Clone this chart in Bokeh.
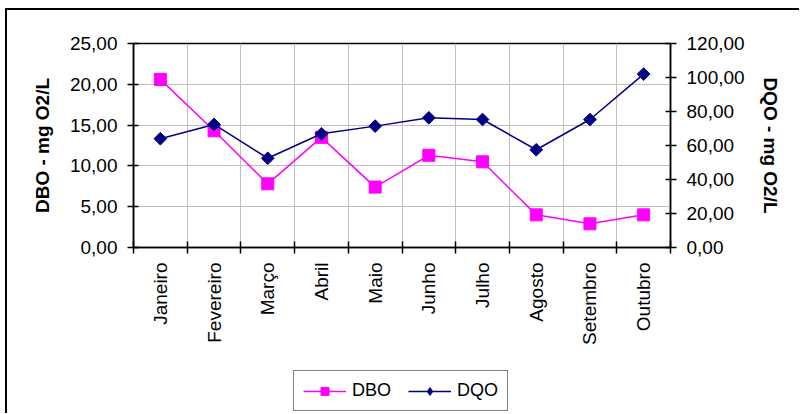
from bokeh.plotting import figure
from bokeh.layouts import column
from bokeh.models import Range1d, LinearAxis, FixedTicker, Legend, LegendItem
from bokeh.embed import file_html
from bokeh.resources import INLINE
import math

months = ["Janeiro", "Fevereiro", "Março", "Abril", "Maio", "Junho", "Julho",
          "Agosto", "Setembro", "Outubro"]
dbo = [20.6, 14.3, 7.8, 13.5, 7.4, 11.3, 10.5, 4.0, 2.9, 4.0]
dqo = [64.0, 72.4, 52.5, 66.9, 71.4, 76.3, 75.3, 57.5, 75.3, 102.0]
dbo_ticks = [0, 5, 10, 15, 20, 25]
dqo_ticks = [0, 20, 40, 60, 80, 100, 120]

FONT = "Liberation Sans"
PINK = "#FF00FF"
NAVY = "#000080"

n = len(months)
xc = [i + 0.5 for i in range(n)]
bounds = list(range(n + 1))

def fmt(v):
    return f"{v:.2f}".replace(".", ",")

p = figure(width=792, height=349, output_backend="svg", toolbar_location=None,
           x_range=Range1d(0, n), y_range=Range1d(0, 25),
           min_border_left=126, min_border_right=129, min_border_top=33,
           min_border_bottom=112, x_axis_location="below")
p.extra_y_ranges = {"dqo": Range1d(0, 120)}

p.outline_line_color = "black"
p.outline_line_width = 1.5
p.background_fill_color = "white"
p.border_fill_color = "white"

# x axis
xa = p.xaxis[0]
xa.ticker = FixedTicker(ticks=xc, minor_ticks=bounds)
xa.major_label_overrides = {c: m for c, m in zip(xc, months)}
xa.major_label_orientation = math.pi / 2
xa.major_tick_line_color = None
xa.major_tick_out = 6
xa.major_tick_in = 0
xa.minor_tick_line_color = "black"
xa.minor_tick_line_width = 1.5
xa.minor_tick_in = 6
xa.minor_tick_out = 6
xa.major_label_standoff = 9
xa.axis_line_color = "black"
xa.axis_line_width = 1.5
xa.major_label_text_font = FONT
xa.major_label_text_font_size = "19px"
xa.major_label_text_color = "black"

# left axis
ya = p.yaxis[0]
ya.ticker = FixedTicker(ticks=dbo_ticks)
ya.major_label_overrides = {t: fmt(t) for t in dbo_ticks}
ya.axis_label = "DBO - mg O2/L"

# right axis
ra = LinearAxis(y_range_name="dqo", ticker=FixedTicker(ticks=dqo_ticks))
ra.major_label_overrides = {t: fmt(t) for t in dqo_ticks}
ra.axis_label = "DQO - mg O2/L"
p.add_layout(ra, "right")

for ax in (ya, ra):
    ax.axis_line_color = "black"
    ax.axis_line_width = 1.5
    ax.major_tick_line_color = "black"
    ax.major_tick_line_width = 1.5
    ax.major_tick_in = 5
    ax.major_tick_out = 6
    ax.minor_tick_line_color = None
    ax.major_label_standoff = 10
    ax.major_label_text_font = FONT
    ax.major_label_text_font_size = "19px"
    ax.major_label_text_color = "black"
    ax.axis_label_text_font = FONT
    ax.axis_label_text_font_size = "19px"
    ax.axis_label_text_font_style = "bold"
    ax.axis_label_text_color = "black"
ya.axis_label_standoff = 14
ra.axis_label_standoff = 12

# grids
p.xgrid.ticker = FixedTicker(ticks=bounds[1:-1])
p.xgrid.grid_line_color = "#BFBFBF"
p.xgrid.grid_line_width = 1
p.ygrid.ticker = FixedTicker(ticks=dbo_ticks)
p.ygrid.grid_line_color = "#BFBFBF"
p.ygrid.grid_line_width = 1

# series
p.line(xc, dbo, line_color=PINK, line_width=1.5)
p.scatter(xc, dbo, marker="square", size=12, fill_color=PINK, line_color=PINK)
p.line(xc, dqo, line_color=NAVY, line_width=1.5, y_range_name="dqo")
p.scatter(xc, dqo, marker="square", angle=math.pi / 4, size=9,
          fill_color=NAVY, line_color=NAVY, y_range_name="dqo")

# legend strip: a small figure whose (out-of-view) copies of the series
# supply the legend's sample glyphs
q = figure(width=792, height=54, output_backend="svg", toolbar_location=None,
           x_range=Range1d(0, n), y_range=Range1d(-2, -1),
           x_axis_location=None, y_axis_location=None,
           min_border_left=0, min_border_right=0, min_border_top=0,
           min_border_bottom=0)
q.grid.visible = False
q.outline_line_color = None
q.border_fill_color = "white"
q.background_fill_color = "white"
ql1 = q.line(xc, dbo, line_color=PINK, line_width=1.5)
qs1 = q.scatter(xc, dbo, marker="square", size=11, fill_color=PINK, line_color=PINK)
ql2 = q.line(xc, dqo, line_color=NAVY, line_width=1.5)
qs2 = q.scatter(xc, dqo, marker="diamond", size=12,
                fill_color=NAVY, line_color=NAVY)
legend = Legend(items=[LegendItem(label="DBO", renderers=[ql1, qs1]),
                       LegendItem(label="DQO", renderers=[ql2, qs2])],
                orientation="horizontal", location=(160, 2),
                border_line_color="black", border_line_width=1,
                background_fill_color="white", background_fill_alpha=1,
                label_text_font=FONT, label_text_font_size="18px",
                label_text_color="black", glyph_width=43, glyph_height=20,
                label_standoff=6, spacing=17, padding=9, margin=0)
q.add_layout(legend, "center")

layout = column(p, q, spacing=0,
                styles={"margin-left": "5px", "margin-top": "8px",
                        "border-left": "2px solid black",
                        "border-top": "2px solid black"})

open("out.html", "w").write(file_html(layout, INLINE))
